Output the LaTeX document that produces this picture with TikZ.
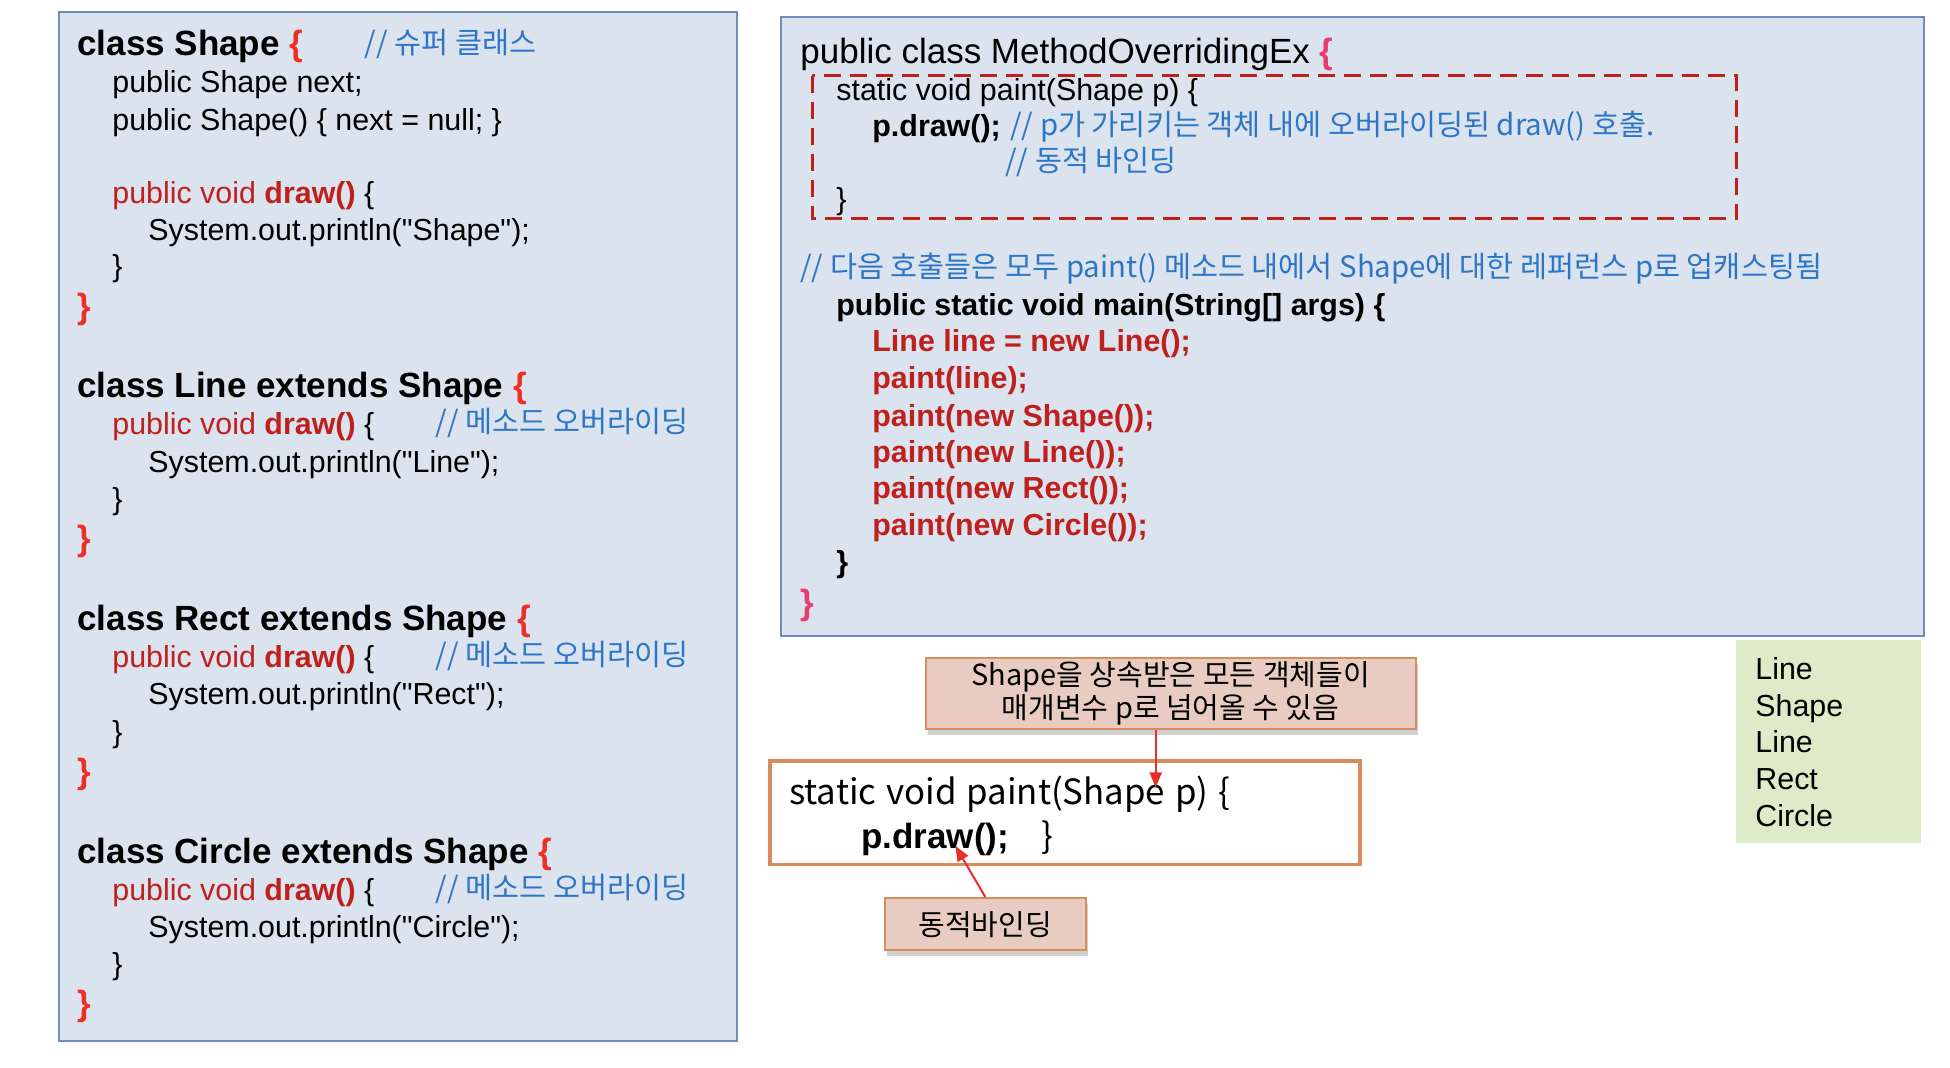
\documentclass[tikz,border=0pt]{standalone}
\usepackage{fontspec}
\setmainfont{Liberation Sans}[Ligatures=TeXOff]
\newfontfamily\kr{Noto Sans CJK KR}
\usetikzlibrary{arrows.meta,shadows}

\definecolor{panelfill}{RGB}{218,227,238}
\definecolor{panelline}{RGB}{110,140,190}
\definecolor{codered}{RGB}{192,32,28}
\definecolor{bracered}{RGB}{238,48,36}
\definecolor{bracepink}{RGB}{232,60,110}
\definecolor{noteblue}{RGB}{46,117,198}
\definecolor{calloutfill}{RGB}{232,204,193}
\definecolor{calloutline}{RGB}{215,140,90}
\definecolor{outfill}{RGB}{221,235,201}
\definecolor{arrowred}{RGB}{232,48,42}

\tikzset{
  code/.style={anchor=base west,inner sep=0pt,font=\fontsize{15.2}{18}\selectfont},
  head/.style={anchor=base west,inner sep=0pt,font=\fontsize{17.5}{21}\selectfont\bfseries},
  note/.style={anchor=base west,inner sep=0pt,text=noteblue,font=\kr\fontsize{14.7}{17}\selectfont},
  panel/.style={draw=panelline,fill=panelfill,line width=1pt},
  callout/.style={draw=calloutline,fill=calloutfill,line width=1pt,inner sep=0pt,align=center,
    drop shadow={shadow xshift=1pt,shadow yshift=-3pt,opacity=.3,fill=black!60},
    font=\kr\fontsize{14.5}{15}\selectfont},
  redarrow/.style={draw=arrowred,line width=1pt,-{Triangle[length=7.5pt,width=6pt]}}
}

\begin{document}
\begin{tikzpicture}[x=0.5pt,y=-0.5pt]
\useasboundingbox (0,0) rectangle (1950,1068);
\fill[white] (0,0) rectangle (1950,1068);

%panels
\draw[panel] (58.5,12.4) rectangle (736.5,1041);
\draw[panel] (781,17.4) rectangle (1924,636);
\draw[codered,line width=1.5pt,dash pattern=on 8.5pt off 4.5pt] (812,76) rectangle (1736.6,219);
\fill[outfill] (1736,640) rectangle (1921,843);

%class Shape
\node[head] (shapeHead) at (77,56) {class Shape \textcolor{bracered}{\{}};
\node[note] (shapeNote) at (364.5,54) {// 슈퍼 클래스};
\node[code] (shapeNext) at (112,93) {public Shape next;};
\node[code] (shapeCtor) at (112,130.4) {public Shape() \{ next = null; \}};
\node[code,text=codered] (shapeDraw) at (112,204) {public void \textbf{draw()} \textcolor{black}{\{}};
\node[code] (shapePrint) at (148,241) {System.out.println("Shape");};
\node[code] (shapeClose) at (112,277) {\}};
\node[head,text=bracered] (shapeEnd) at (77,318.5) {\}};

%class Line
\node[head] (lineHead) at (77,398) {class Line extends Shape \textcolor{bracered}{\{}};
\node[code,text=codered] (lineDraw) at (112,435) {public void \textbf{draw()} \textcolor{black}{\{}};
\node[note] (lineNote) at (435.4,433) {// 메소드 오버라이딩};
\node[code] (linePrint) at (148,472.5) {System.out.println("Line");};
\node[code] (lineClose) at (112,510) {\}};
\node[head,text=bracered] (lineEnd) at (77,551) {\}};

%class Rect
\node[head] (rectHead) at (77,630.5) {class Rect extends Shape \textcolor{bracered}{\{}};
\node[code,text=codered] (rectDraw) at (112,668) {public void \textbf{draw()} \textcolor{black}{\{}};
\node[note] (rectNote) at (435.4,666) {// 메소드 오버라이딩};
\node[code] (rectPrint) at (148,705) {System.out.println("Rect");};
\node[code] (rectClose) at (112,742.5) {\}};
\node[head,text=bracered] (rectEnd) at (77,783.5) {\}};

%class Circle
\node[head] (circHead) at (77,863.5) {class Circle extends Shape \textcolor{bracered}{\{}};
\node[code,text=codered] (circDraw) at (112,900.5) {public void \textbf{draw()} \textcolor{black}{\{}};
\node[note] (circNote) at (435.4,898.5) {// 메소드 오버라이딩};
\node[code] (circPrint) at (148,938) {System.out.println("Circle");};
\node[code] (circClose) at (112,974) {\}};
\node[head,text=bracered] (circEnd) at (77,1015) {\}};

%main class
\node[head,font=\fontsize{17.5}{21}\selectfont] (mainHead) at (800,63.5) {public class MethodOverridingEx \textcolor{bracepink}{\textbf{\{}}};
\node[code] (paintSig) at (836,100.6) {static void paint(Shape p) \{};
\node[code,font=\fontsize{15.2}{18}\selectfont\bfseries] (paintCall) at (872,136.6) {p.draw();};
\node[note] (paintNote) at (1010,135.6) {// p가 가리키는 객체 내에 오버라이딩된 draw() 호출.};
\node[note] (bindNote) at (1005,171.7) {// 동적 바인딩};
\node[code] (paintClose) at (836,210) {\}};
\node[note] (castNote) at (800,277.5) {// 다음 호출들은 모두 paint() 메소드 내에서 Shape에 대한 레퍼런스 p로 업캐스팅됨};
\node[code,font=\fontsize{15.2}{18}\selectfont\bfseries] (mainSig) at (836,315.8) {public static void main(String[] args) \{};

\node[code,font=\fontsize{15.2}{18}\selectfont\bfseries,text=codered] (call1) at (872,352) {Line line = new Line();};
\node[code,font=\fontsize{15.2}{18}\selectfont\bfseries,text=codered] (call2) at (872,389) {paint(line);};
\node[code,font=\fontsize{15.2}{18}\selectfont\bfseries,text=codered] (call3) at (872,426.5) {paint(new Shape());};
\node[code,font=\fontsize{15.2}{18}\selectfont\bfseries,text=codered] (call4) at (872,462.6) {paint(new Line());};
\node[code,font=\fontsize{15.2}{18}\selectfont\bfseries,text=codered] (call5) at (872,498.6) {paint(new Rect());};
\node[code,font=\fontsize{15.2}{18}\selectfont\bfseries,text=codered] (call6) at (872,536) {paint(new Circle());};

\node[code,font=\fontsize{15.2}{18}\selectfont\bfseries] (mainClose) at (836,573) {\}};
\node[head,text=bracepink] (mainEnd) at (800,614.5) {\}};

%callouts
\node[callout,minimum width=245pt,minimum height=35.5pt] (superNote) at (1170.6,693.5)
  {Shape을 상속받은 모든 객체들이\\매개변수 p로 넘어올 수 있음};
\node[draw=calloutline,line width=1.6pt,fill=white,minimum width=295pt,minimum height=51.8pt] (paintBox) at (1064.9,812.8) {};
\node[anchor=base west,inner sep=0pt,font=\kr\fontsize{17.4}{20}\selectfont] (paintLine) at (788.7,805) {static\hspace{5pt}void\hspace{5pt}paint(Shape\hspace{5pt}p)\hspace{5pt}\{};
\node[anchor=base west,inner sep=0pt,font=\fontsize{17.5}{21}\selectfont] (drawLine) at (861,848.5) {\textbf{p.draw();}\hspace{16pt}{\kr\}}};
\node[callout,minimum width=100.8pt,minimum height=26.2pt] (dynNote) at (985.3,924.2) {동적바인딩};

%arrows
\coordinate (tipA) at (1155.7,787.5);
\coordinate (tipB) at (955.4,846);
\draw[redarrow] (tipA |- superNote.south) -- (tipA);
\draw[redarrow] (dynNote.north) -- (tipB);

%output
\node[code] (out1) at (1755,680) {Line};
\node[code] (out2) at (1755,717) {Shape};
\node[code] (out3) at (1755,753) {Line};
\node[code] (out4) at (1755,790) {Rect};
\node[code] (out5) at (1755,827) {Circle};
\end{tikzpicture}
\end{document}
